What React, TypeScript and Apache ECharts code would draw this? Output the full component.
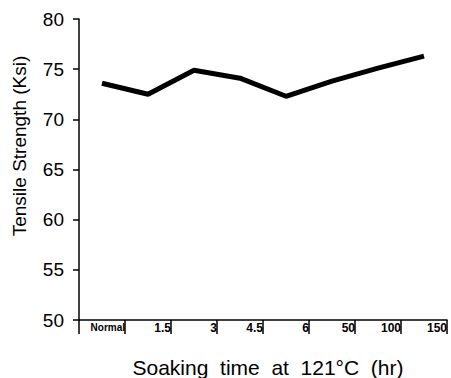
import React, { useEffect, useRef } from "react";
import * as echarts from "echarts";

const categories = ["Normal", "1.5", "3", "4.5", "6", "50", "100", "150"];
const strength = [73.6, 72.5, 74.9, 74.1, 72.3, 73.8, 75.1, 76.3];
const tickLabels = ["", ...categories];
const xTitle = "Soaking  time  at  121°C  (hr)";
const yTitle = "Tensile Strength (Ksi)";

export default function App() {
  const ref = useRef<HTMLDivElement>(null);
  useEffect(() => {
    if (!ref.current) return;
    const chart = echarts.init(ref.current, null, { renderer: "svg" });
    const font = "Liberation Sans, Arial, sans-serif";
    chart.setOption({
      animation: false,
      backgroundColor: "#fff",
      grid: { left: 79, top: 19, right: 4, bottom: 58 },
      xAxis: [
        {
          type: "category",
          data: categories,
          boundaryGap: true,
          axisLine: { show: false },
          axisTick: { show: false },
          axisLabel: { show: false },
          splitLine: { show: false },
        },
        {
          type: "category",
          data: tickLabels,
          boundaryGap: false,
          position: "bottom",
          axisLine: { show: true, lineStyle: { color: "#000", width: 1.5 } },
          axisTick: { show: true, inside: false, length: 14, interval: 0, lineStyle: { color: "#000", width: 1.5 } },
          axisLabel: {
            interval: 0,
            align: "right",
            margin: 2,
            color: "#000",
            fontSize: 12,
            fontWeight: "bold",
            fontFamily: font,
            formatter: (v: string) => (v === "Normal" ? "{n|" + v + "}" : v),
            rich: { n: { fontSize: 10, fontWeight: "bold", fontFamily: font, color: "#000" } },
          },
          splitLine: { show: false },
        },
      ],
      yAxis: {
        type: "value",
        min: 50,
        max: 80,
        interval: 5,
        axisLine: { show: true, lineStyle: { color: "#000", width: 1.5 } },
        axisTick: { show: true, length: 6, lineStyle: { color: "#000", width: 1.5 } },
        axisLabel: { color: "#000", fontSize: 19, fontFamily: font, margin: 15 },
        splitLine: { show: false },
      },
      series: [
        {
          type: "line",
          xAxisIndex: 0,
          data: strength,
          symbol: "none",
          lineStyle: { color: "#000", width: 5 },
        },
      ],
      graphic: [
        {
          type: "text",
          x: 268,
          y: 367,
          style: {
            text: xTitle,
            fontSize: 21,
            fontFamily: font,
            fill: "#000",
            align: "center",
            verticalAlign: "middle",
          },
        },
        {
          type: "text",
          x: 19,
          y: 146,
          rotation: Math.PI / 2,
          style: {
            text: yTitle,
            fontSize: 19,
            fontFamily: font,
            fill: "#000",
            align: "center",
            verticalAlign: "middle",
          },
        },
      ],
    });
    return () => chart.dispose();
  }, []);
  return <div ref={ref} style={{ width: 451, height: 378, position: "absolute", left: 0, top: 0 }} />;
}
